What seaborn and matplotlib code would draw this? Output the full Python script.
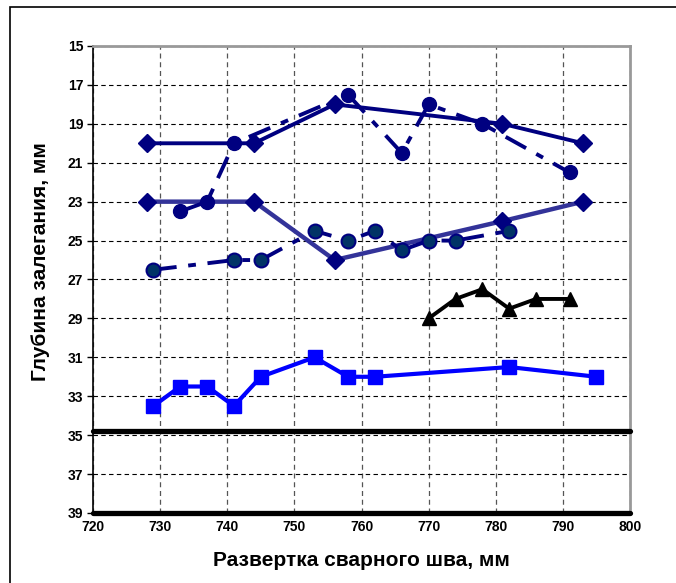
import matplotlib
matplotlib.use("Agg")
import matplotlib.pyplot as plt
from matplotlib.patches import Rectangle
import seaborn as sns

sns.set_theme(style="white")
plt.rcParams['font.family'] = ['Liberation Sans', 'DejaVu Sans']
plt.rcParams['font.weight'] = 'bold'
plt.rcParams['text.color'] = 'black'
plt.rcParams['axes.labelcolor'] = 'black'
plt.rcParams['xtick.color'] = 'black'
plt.rcParams['ytick.color'] = 'black'

# values: x = развертка (мм), y = глубина (мм)
upper_diamond_x = [728, 744, 756, 781, 793]
upper_diamond_y = [20, 20, 18, 19, 20]

upper_circle_x = [733, 737, 741, 758, 766, 770, 778, 791]
upper_circle_y = [23.5, 23, 20, 17.5, 20.5, 18, 19, 21.5]

mid_diamond_x = [728, 744, 756, 781, 793]
mid_diamond_y = [23, 23, 26, 24, 23]

mid_circle_x = [729, 741, 745, 753, 758, 762, 766, 770, 774, 782]
mid_circle_y = [26.5, 26, 26, 24.5, 25, 24.5, 25.5, 25, 25, 24.5]

triangle_x = [770, 774, 778, 782, 786, 791]
triangle_y = [29, 28, 27.5, 28.5, 28, 28]

square_x = [729, 733, 737, 741, 745, 753, 758, 762, 782, 795]
square_y = [33.5, 32.5, 32.5, 33.5, 32, 31, 32, 32, 31.5, 32]

boundary_y = [34.8, 39]

x_ticks = list(range(720, 801, 10))
y_ticks = list(range(15, 40, 2))

fig = plt.figure(figsize=(6.76, 5.83), dpi=100)
ax = fig.add_axes([0.1376, 0.1201, 0.7944, 0.801])

navy = '#000080'
dash_dot = (0, (6, 3, 2, 3))

sns.lineplot(x=mid_diamond_x, y=mid_diamond_y, ax=ax, color='#333399', lw=3.2,
             marker='D', markersize=9, markeredgecolor=navy,
             markerfacecolor=navy, markeredgewidth=1, errorbar=None)
sns.lineplot(x=upper_diamond_x, y=upper_diamond_y, ax=ax, color=navy, lw=2.8,
             marker='D', markersize=9, markeredgecolor=navy,
             markerfacecolor=navy, markeredgewidth=1, errorbar=None)
sns.lineplot(x=upper_circle_x, y=upper_circle_y, ax=ax, color=navy, lw=2.8,
             linestyle=dash_dot, marker='o', markersize=10,
             markeredgecolor=navy, markerfacecolor=navy,
             markeredgewidth=1, errorbar=None)
sns.lineplot(x=mid_circle_x, y=mid_circle_y, ax=ax, color=navy, lw=2.8,
             linestyle=dash_dot, marker='o', markersize=10,
             markeredgecolor=navy, markerfacecolor='#003366',
             markeredgewidth=1.5, errorbar=None)
sns.lineplot(x=triangle_x, y=triangle_y, ax=ax, color='black', lw=2.8,
             marker='^', markersize=10, markeredgecolor='black',
             markerfacecolor='black', markeredgewidth=1, errorbar=None)
sns.lineplot(x=square_x, y=square_y, ax=ax, color='#0000FF', lw=3,
             marker='s', markersize=9.5, markeredgecolor='#0000FF',
             markerfacecolor='#0000FF', markeredgewidth=1, errorbar=None)

for yb in boundary_y:
    ax.axhline(yb, color='black', lw=3.8, zorder=5, clip_on=False)

ax.set_xlim(720, 800)
ax.set_ylim(39, 15)
ax.set_xticks(x_ticks)
ax.set_yticks(y_ticks)

ax.set_axisbelow(True)
ax.yaxis.grid(True, color='black', lw=0.8, linestyle=(0, (4, 3)))
ax.xaxis.grid(True, color='#555555', lw=0.9, linestyle=(0, (4, 3)))

ax.tick_params(axis='y', which='major', left=True, length=4, width=1,
               color='black', labelsize=10, labelcolor='black', pad=3)
ax.tick_params(axis='x', which='major', bottom=False, length=0,
               labelsize=10, labelcolor='black', pad=5)
for lab in ax.get_xticklabels() + ax.get_yticklabels():
    lab.set_fontweight('bold')

for side in ['top', 'right']:
    ax.spines[side].set_color('#999999')
    ax.spines[side].set_linewidth(2)
ax.spines['left'].set_color('black')
ax.spines['left'].set_linewidth(1.2)
ax.spines['bottom'].set_color('black')
ax.spines['bottom'].set_linewidth(1)

ax.set_xlabel('Развертка сварного шва, мм', fontsize=15,
              fontweight='bold', color='black')
ax.set_ylabel('Глубина залегания, мм', fontsize=15,
              fontweight='bold', color='black')
ax.xaxis.set_label_coords(0.5, -0.082)
ax.yaxis.set_label_coords(-0.08, 0.5375)

fig.add_artist(Rectangle((10 / 676, -0.5), 2, 1.5 - 7 / 583,
                         transform=fig.transFigure, fill=False,
                         edgecolor='black', lw=1.2, clip_on=False))

fig.savefig('out.png', dpi=100)
